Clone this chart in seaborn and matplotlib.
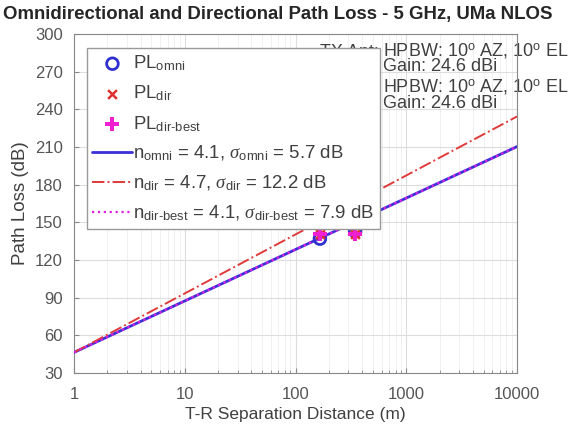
import matplotlib
matplotlib.use("Agg")
import matplotlib.pyplot as plt
import seaborn as sns
import numpy as np
import pandas as pd

# measured points (T-R distance in m, path loss in dB)
dist = [166, 345]
pl_omni = [137, 143]
pl_dir = [141, 141]
pl_dir_best = [141, 141]

# fitted lines, endpoints at 1 m and 10 km
line_d = [1, 10000]
fit_omni = [46.4, 210.4]
fit_dir = [46.4, 234.4]
fit_dir_best = [46.4, 210.4]

sns.set_style("ticks")
plt.rcParams['font.family'] = ['Liberation Sans', 'DejaVu Sans']
plt.rcParams['mathtext.fontset'] = 'custom'
plt.rcParams['mathtext.rm'] = 'Liberation Sans'
plt.rcParams['mathtext.it'] = 'Liberation Serif:italic'

txt = '#404040'
fig = plt.figure(figsize=(5.68, 4.3), dpi=100)
ax = fig.add_axes([0.1303, 0.1326, 0.780, 0.788])

pts = pd.DataFrame({'d': dist, 'omni': pl_omni, 'dir': pl_dir, 'best': pl_dir_best})
lines = pd.DataFrame({'d': line_d, 'omni': fit_omni, 'dir': fit_dir, 'best': fit_dir_best})

sns.scatterplot(data=pts, x='d', y='omni', ax=ax, marker='o', s=70, facecolor='none',
                edgecolor='#3030d0', linewidth=2, label=r'PL$_{\mathrm{omni}}$', zorder=4)
sns.scatterplot(data=pts, x='d', y='dir', ax=ax, marker='x', s=40, color='#e03030',
                linewidth=1.8, label=r'PL$_{\mathrm{dir}}$', zorder=4)
sns.scatterplot(data=pts, x='d', y='best', ax=ax, marker='P', s=90, color='#f020d0',
                linewidth=0, label=r'PL$_{\mathrm{dir\text{-}best}}$', zorder=5)
sns.lineplot(data=lines, x='d', y='omni', ax=ax, color='#3a30d8', linewidth=2,
             label=r'n$_{\mathrm{omni}}$ = 4.1, $\sigma_{\mathrm{omni}}$ = 5.7 dB', zorder=3)
sns.lineplot(data=lines, x='d', y='dir', ax=ax, color='#e03a3a', linewidth=1.4, linestyle='-.',
             label=r'n$_{\mathrm{dir}}$ = 4.7, $\sigma_{\mathrm{dir}}$ = 12.2 dB', zorder=3)
sns.lineplot(data=lines, x='d', y='best', ax=ax, color='#e020e0', linewidth=1.6, linestyle=':',
             label=r'n$_{\mathrm{dir\text{-}best}}$ = 4.1, $\sigma_{\mathrm{dir\text{-}best}}$ = 7.9 dB', zorder=3)

ax.set_xscale('log')
ax.set_xlim(1, 10000)
ax.set_ylim(30, 300)
ax.set_yticks(np.arange(30, 301, 30))
ax.set_xticks([1, 10, 100, 1000, 10000])
ax.set_xticklabels(['1', '10', '100', '1000', '10000'])
ax.grid(True, which='major', color='#dddddd', linewidth=0.8)
ax.grid(True, which='minor', axis='x', color='#eeeeee', linewidth=0.6)
ax.tick_params(direction='in', which='both', labelsize=12, labelcolor='#555555', color='#888888')
ax.tick_params(axis='x', pad=10)
ax.tick_params(axis='y', pad=8)
for sp in ax.spines.values():
    sp.set_color('#888888')
    sp.set_visible(True)

ax.set_xlabel('T-R Separation Distance (m)', fontsize=12.5, color=txt, labelpad=4)
ax.set_ylabel('Path Loss (dB)', fontsize=13.5, color=txt, labelpad=4)

fig.text(0.006, 0.967, 'Omnidirectional and Directional Path Loss - 5 GHz, UMa NLOS',
         fontsize=13.4, fontweight='bold', va='center', ha='left')

ant = r'HPBW: 10$^\mathrm{o}$ AZ, 10$^\mathrm{o}$ EL' + '\nGain: 24.6 dBi'
for prefix, ytop, ptop in [('TX Ant:', 0.979, 0.970), ('RX Ant:', 0.870, 0.861)]:
    ax.text(0.688, ptop, prefix, transform=ax.transAxes, fontsize=13, color=txt,
            va='top', ha='right', clip_on=False, zorder=1)
    ax.text(0.6975, ytop, ant, transform=ax.transAxes, fontsize=13, color=txt,
            va='top', ha='left', linespacing=0.8, clip_on=False, zorder=1)

leg = ax.legend(loc='upper left', bbox_to_anchor=(0.029, 0.959), borderaxespad=0,
                fontsize=13.4, frameon=True, fancybox=False, framealpha=1, edgecolor='#999999',
                handlelength=2.15, handletextpad=0.05, labelspacing=0.56, borderpad=0.3)
leg.set_zorder(10)
for t in leg.get_texts():
    t.set_color(txt)

fig.savefig('out.png', dpi=100)
